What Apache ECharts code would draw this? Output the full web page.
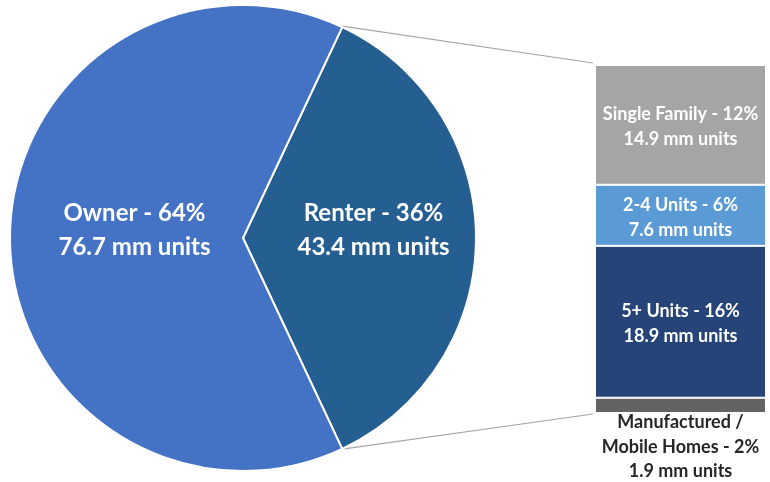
<!DOCTYPE html>
<html>
<head>
<meta charset="utf-8">
<script src="https://cdn.jsdelivr.net/npm/echarts@6/dist/echarts.min.js"></script>
<style>
  html, body { margin: 0; padding: 0; background: #fff; }
  #main { width: 770px; height: 482px; }
</style>
</head>
<body>
<div id="main"></div>
<script>
// tenure split (pie)
const tenureNames = ['Renter', 'Owner'];
const tenureShares = [36, 64];
const tenureUnits = [43.4, 76.7];
const tenureColors = ['#255E91', '#4472C4'];

// renter breakdown (stacked bar, top to bottom)
const typeNames = ['Single Family', '2-4 Units', '5+ Units', 'Manufactured /\nMobile Homes'];
const typeShares = [12, 6, 16, 2];
const typeUnits = [14.9, 7.6, 18.9, 1.9];
const typeColors = ['#A5A5A5', '#5B9BD5', '#264478', '#636363'];

const fontFamily = 'Lato, "Open Sans", sans-serif';
const pieCenter = [243, 238];
const pieRadius = 233;
// renter slice centred on the right horizontal
const startAngle = tenureShares[0] / 100 * 360 / 2;

let chart = echarts.init(document.getElementById('main'));

let barTotal = typeUnits.reduce((s, x) => s + x, 0);

let barSeries = typeNames.map((name, i) => {
  let last = i === typeNames.length - 1;
  return {
    name: name,
    type: 'bar',
    stack: 'renter',
    barWidth: '100%',
    data: [typeUnits[i]],
    itemStyle: { color: typeColors[i], borderColor: '#fff', borderWidth: 1 },
    label: {
      show: true,
      position: last ? 'bottom' : 'inside',
      distance: last ? -3 : 5,
      offset: last ? [0, 0] : [0, 2],
      formatter: name + ' - ' + typeShares[i] + '%\n' + typeUnits[i] + ' mm units',
      color: last ? '#262626' : '#fff',
      fontFamily: fontFamily,
      fontWeight: 'bold',
      fontSize: 18,
      lineHeight: last ? 24.5 : 25
    },
    emphasis: { disabled: true }
  };
});

let option = {
  animation: false,
  grid: { left: 595, top: 65, width: 171, height: 348 },
  xAxis: { type: 'category', data: ['Renter'], show: false },
  yAxis: { type: 'value', min: 0, max: barTotal, inverse: true, show: false },
  series: [
    {
      type: 'pie',
      center: pieCenter,
      radius: pieRadius,
      startAngle: startAngle,
      clockwise: true,
      data: tenureNames.map((n, i) => ({
        name: n,
        value: tenureShares[i],
        itemStyle: { color: tenureColors[i] }
      })),
      itemStyle: { borderColor: '#fff', borderWidth: 2 },
      label: {
        show: true,
        position: 'inside',
        formatter: p => p.name + ' - ' + p.value + '%\n' + tenureUnits[p.dataIndex] + ' mm units',
        color: '#fff',
        fontFamily: fontFamily,
        fontWeight: 'bold',
        fontSize: 24,
        lineHeight: 34
      },
      labelLayout: { dx: 5.5, dy: -4 },
      labelLine: { show: false },
      emphasis: { disabled: true }
    }
  ].concat(barSeries)
};

chart.setOption(option);

// connector lines from the renter slice edges to the bar corners
let rad = startAngle * Math.PI / 180;
let topEdge = [pieCenter[0] + pieRadius * Math.cos(rad), pieCenter[1] - pieRadius * Math.sin(rad)];
let botEdge = [pieCenter[0] + pieRadius * Math.cos(rad), pieCenter[1] + pieRadius * Math.sin(rad)];
let barTop = chart.convertToPixel({ gridIndex: 0 }, ['Renter', 0]);
let barBot = chart.convertToPixel({ gridIndex: 0 }, ['Renter', barTotal]);
let barLeft = 595 - 2;

option.graphic = [
  {
    type: 'line',
    shape: { x1: topEdge[0], y1: topEdge[1] - 1, x2: barLeft, y2: barTop[1] - 2 },
    style: { stroke: '#A6A6A6', lineWidth: 1.2 }
  },
  {
    type: 'line',
    shape: { x1: botEdge[0] + 2, y1: botEdge[1], x2: barLeft, y2: barBot[1] + 1 },
    style: { stroke: '#A6A6A6', lineWidth: 1.2 }
  }
];
chart.setOption(option, true);
</script>
</body>
</html>
